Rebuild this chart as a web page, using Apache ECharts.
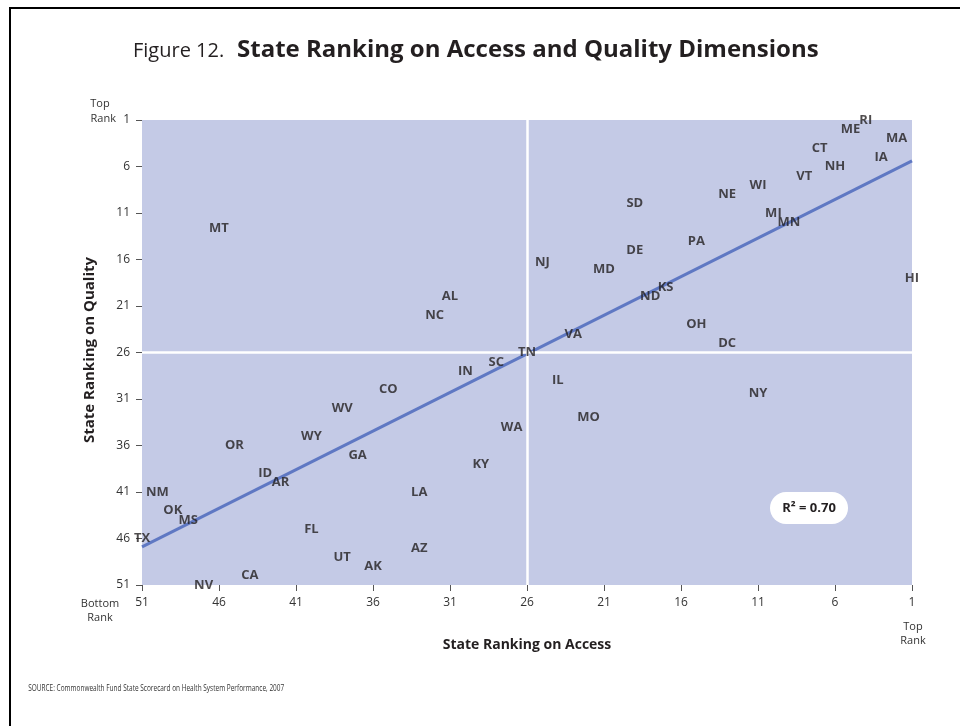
<!DOCTYPE html>
<html>
<head>
<meta charset="utf-8">
<script src="https://cdn.jsdelivr.net/npm/echarts@6/dist/echarts.min.js"></script>
<style>
html,body{margin:0;padding:0;background:#ffffff;}
#chart{width:960px;height:726px;}
</style>
</head>
<body>
<div id="chart"></div>
<script>
// ---- data ----
const states = ['RI','ME','MA','CT','IA','NH','VT','WI','NE','SD','MI','MN','MT','PA','DE','NJ','MD','HI','KS','ND','AL','NC','OH','VA','DC','TN','SC','IN','IL','CO','NY','WV','MO','WA','WY','OR','GA','KY','ID','AR','NM','LA','OK','MS','FL','TX','AZ','UT','AK','CA','NV'];
const accessRank = [4,5,2,7,3,6,8,11,13,19,10,9,46,15,19,25,21,1,17,18,31,32,15,23,13,26,28,30,24,35,11,38,22,27,40,45,37,29,43,42,50,33,49,48,40,51,33,38,36,44,47];
const qualityRank = [1,2,3,4,5,6,7,8,9,10,11,12,12.6,14,15,16.3,17,18,19,20,20,22,23,24,25,26,27,28,29,30,30.4,32,33,34,35,36,37,38,39,40,41,41,43,44,45,46,47,48,49,50,51];
const tickValues = [1,6,11,16,21,26,31,36,41,46,51];
const midRank = 26;
// trend line: quality value at access 51 and at access 1
const trendAccess = [51, 1];
const trendQuality = [46.9, 5.4];
const r2Text = 'R² = 0.70';

const chart = echarts.init(document.getElementById('chart'), null, {renderer:'canvas'});
const fontMain = "'Open Sans', 'Noto Sans', sans-serif";

const scatterData = states.map((s,i)=>({name:s, value:[accessRank[i], qualityRank[i]]}));
const trendData = trendAccess.map((a,i)=>[a, trendQuality[i]]);

const axisCommon = {
  type:'value', min:1, max:51, interval:5, inverse:true,
  splitLine:{show:false},
  axisLine:{show:false},
  axisTick:{show:true, length:6, customValues:tickValues, lineStyle:{color:'#555', width:1}},
  axisLabel:{customValues:tickValues, color:'#333', fontSize:12, fontFamily:fontMain}
};

chart.setOption({
  animation:false,
  backgroundColor:'#ffffff',
  grid:{left:142, right:48, top:120, bottom:141, show:true, backgroundColor:'#c4cae6', borderWidth:0},
  xAxis:Object.assign({}, axisCommon, {position:'bottom', axisLabel:Object.assign({}, axisCommon.axisLabel, {margin:12})}),
  yAxis:Object.assign({}, axisCommon, {position:'left', axisLabel:Object.assign({}, axisCommon.axisLabel, {margin:12})}),
  series:[
    {
      type:'line', data:trendData, symbol:'none', silent:true, z:2,
      lineStyle:{color:'#5f78c3', width:3},
      markLine:{
        silent:true, symbol:'none', label:{show:false},
        lineStyle:{color:'#ffffff', width:2.5, type:'solid'},
        data:[{xAxis:midRank},{yAxis:midRank}]
      }
    },
    {
      type:'scatter', data:scatterData, symbolSize:1, z:5,
      itemStyle:{color:'rgba(0,0,0,0)'},
      label:{show:true, position:'inside', formatter:'{b}', color:'#231f20',
        fontSize:13, fontWeight:'bold', fontFamily:fontMain}
    }
  ],
  graphic:[
    {type:'polyline', shape:{points:[[10,800],[10,8],[960,8]]}, style:{stroke:'#000', lineWidth:2, fill:null}},
    {type:'text', x:133, y:51, style:{text:'Figure 12.', verticalAlign:'middle', fontSize:20, fontFamily:fontMain, fill:'#231f20'}},
    {type:'text', x:237, y:50, style:{text:'State Ranking on Access and Quality Dimensions', verticalAlign:'middle', fontSize:24, fontWeight:'bold', fontFamily:fontMain, fill:'#231f20'}},
    {type:'text', x:100, y:104, style:{text:'Top', align:'center', verticalAlign:'middle', fontSize:11, fontFamily:fontMain, fill:'#333'}},
    {type:'text', x:116, y:119, style:{text:'Rank', align:'right', verticalAlign:'middle', fontSize:11, fontFamily:fontMain, fill:'#333'}},
    {type:'text', x:100, y:604, style:{text:'Bottom', align:'center', verticalAlign:'middle', fontSize:11, fontFamily:fontMain, fill:'#333'}},
    {type:'text', x:100, y:618, style:{text:'Rank', align:'center', verticalAlign:'middle', fontSize:11, fontFamily:fontMain, fill:'#333'}},
    {type:'text', x:913, y:627, style:{text:'Top', align:'center', verticalAlign:'middle', fontSize:11, fontFamily:fontMain, fill:'#333'}},
    {type:'text', x:913, y:641, style:{text:'Rank', align:'center', verticalAlign:'middle', fontSize:11, fontFamily:fontMain, fill:'#333'}},
    {type:'text', x:527, y:645, style:{text:'State Ranking on Access', align:'center', verticalAlign:'middle', fontSize:14, fontWeight:'bold', fontFamily:fontMain, fill:'#231f20'}},
    {type:'text', x:90, y:350, rotation:Math.PI/2, style:{text:'State Ranking on Quality', align:'center', verticalAlign:'middle', fontSize:15, fontWeight:'bold', fontFamily:fontMain, fill:'#231f20'}},
    {type:'rect', shape:{x:770, y:492, width:78, height:32, r:16}, style:{fill:'#ffffff'}, z:10},
    {type:'text', x:809, y:508, z:11, style:{text:r2Text, align:'center', verticalAlign:'middle', fontSize:13, fontWeight:'bold', fontFamily:fontMain, fill:'#231f20'}},
    {type:'text', x:22, y:688, scaleX:0.72, originX:22, originY:688, style:{text:'SOURCE: Commonwealth Fund State Scorecard on Health System Performance, 2007', verticalAlign:'middle', fontSize:9, fontFamily:fontMain, fill:'#333'}}
  ]
});
</script>
</body>
</html>
